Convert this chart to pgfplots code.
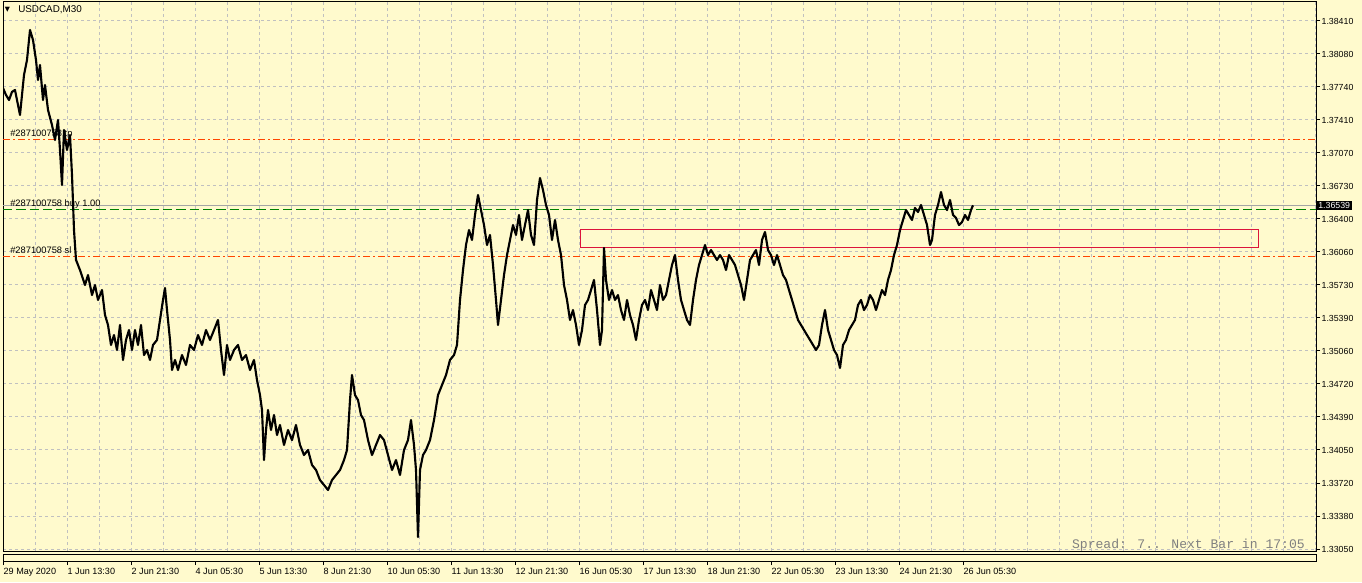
\documentclass[border=0pt]{standalone}
\usepackage{pgfplots}
\pgfplotsset{compat=1.18}
\usepackage{pgfplotstable}
\usepackage{fontspec}
\setmainfont{Liberation Sans}
\newfontfamily\monofont{Liberation Mono}
\newfontfamily\djfont{DejaVu Sans}
\definecolor{bgc}{RGB}{255,250,205}
\definecolor{gridc}{RGB}{192,192,192}
\definecolor{ordc}{RGB}{255,69,0}
\definecolor{buyc}{RGB}{0,128,0}
\definecolor{rectc}{RGB}{220,20,60}
\definecolor{bidc}{RGB}{165,165,165}
\definecolor{sprc}{RGB}{128,128,128}

\pgfplotstableread{
idx price
0 1.37730
3 1.37659
6 1.37608
9 1.37690
12 1.37710
15 1.37557
17 1.37456
19 1.37659
21 1.37862
24 1.38014
27 1.38319
30 1.38217
33 1.38014
35 1.37811
37 1.37963
40 1.37608
42 1.37760
45 1.37507
49 1.37354
52 1.37202
55 1.37405
57 1.37100
59 1.36745
61 1.37303
64 1.37100
67 1.37253
69 1.36847
71 1.36288
73 1.35984
77 1.35882
82 1.35730
85 1.35831
89 1.35628
92 1.35730
95 1.35578
99 1.35679
102 1.35425
105 1.35324
108 1.35121
111 1.35222
114 1.35070
117 1.35324
120 1.34969
123 1.35172
126 1.35273
129 1.35070
132 1.35273
135 1.35121
138 1.35324
141 1.35019
144 1.35070
147 1.34969
150 1.35121
154 1.35172
157 1.35375
160 1.35578
162 1.35699
164 1.35476
167 1.35172
169 1.34867
172 1.34969
175 1.34867
179 1.35019
183 1.34918
187 1.35121
191 1.35070
195 1.35222
199 1.35121
203 1.35273
207 1.35172
211 1.35273
215 1.35375
218 1.35070
221 1.34816
224 1.35121
227 1.34969
231 1.35070
235 1.35121
239 1.34969
243 1.35019
247 1.34867
251 1.34969
254 1.34765
257 1.34613
259 1.34461
261 1.33953
263 1.34258
265 1.34461
268 1.34258
271 1.34410
274 1.34207
277 1.34309
281 1.34106
285 1.34258
289 1.34156
293 1.34309
297 1.34106
301 1.34004
305 1.34055
309 1.33903
313 1.33852
317 1.33750
321 1.33700
325 1.33649
329 1.33750
333 1.33801
337 1.33852
341 1.33953
344 1.34055
347 1.34562
349 1.34816
352 1.34613
355 1.34562
358 1.34410
361 1.34359
365 1.34156
369 1.34004
373 1.34106
377 1.34207
381 1.34156
385 1.34004
389 1.33852
393 1.33953
397 1.33801
401 1.34055
405 1.34156
408 1.34359
411 1.34106
413 1.33852
415 1.33172
417 1.33852
420 1.34004
423 1.34055
427 1.34156
431 1.34359
435 1.34613
439 1.34715
443 1.34816
447 1.34969
451 1.35019
454 1.35121
457 1.35578
460 1.35882
463 1.36136
466 1.36288
469 1.36187
472 1.36441
475 1.36644
478 1.36491
481 1.36339
484 1.36136
487 1.36238
490 1.35933
493 1.35578
495 1.35324
498 1.35578
501 1.35831
504 1.36034
507 1.36187
510 1.36339
513 1.36238
516 1.36441
519 1.36187
522 1.36339
525 1.36491
528 1.36238
531 1.36136
534 1.36593
537 1.36816
540 1.36694
543 1.36542
546 1.36441
549 1.36187
552 1.36390
555 1.36187
558 1.36034
561 1.35730
564 1.35578
567 1.35375
570 1.35476
573 1.35324
576 1.35121
579 1.35273
582 1.35527
585 1.35578
588 1.35679
591 1.35781
594 1.35476
597 1.35121
599 1.35273
601 1.36106
603 1.35781
606 1.35578
609 1.35679
612 1.35578
615 1.35628
618 1.35476
621 1.35375
624 1.35578
627 1.35425
630 1.35324
633 1.35172
636 1.35375
639 1.35527
642 1.35578
645 1.35476
648 1.35679
651 1.35578
654 1.35476
657 1.35730
660 1.35578
663 1.35628
666 1.35781
669 1.35933
672 1.36034
675 1.35781
678 1.35578
681 1.35476
684 1.35375
687 1.35324
690 1.35578
693 1.35781
696 1.35933
699 1.36034
702 1.36136
705 1.36034
708 1.36085
711 1.36034
714 1.35984
717 1.36034
720 1.35984
723 1.35882
726 1.36034
729 1.35984
732 1.35933
735 1.35831
738 1.35730
741 1.35578
744 1.35781
747 1.35984
750 1.36034
753 1.36085
756 1.35933
759 1.36187
762 1.36268
765 1.36085
768 1.36034
771 1.35933
774 1.36034
777 1.35933
780 1.35831
783 1.35781
786 1.35679
789 1.35578
792 1.35476
795 1.35375
798 1.35324
801 1.35273
804 1.35222
807 1.35172
810 1.35121
813 1.35070
816 1.35121
819 1.35324
822 1.35476
825 1.35273
828 1.35172
831 1.35070
834 1.35019
837 1.34887
840 1.35121
843 1.35172
846 1.35273
849 1.35324
852 1.35375
855 1.35527
858 1.35578
861 1.35476
864 1.35527
867 1.35628
870 1.35578
873 1.35476
876 1.35578
879 1.35679
882 1.35628
885 1.35781
888 1.35882
891 1.36034
894 1.36136
897 1.36288
900 1.36390
903 1.36491
906 1.36441
909 1.36390
912 1.36512
915 1.36471
918 1.36542
921 1.36441
924 1.36339
927 1.36136
929 1.36187
932 1.36441
935 1.36542
938 1.36674
941 1.36542
944 1.36491
947 1.36593
950 1.36441
953 1.36410
956 1.36339
959 1.36369
962 1.36441
965 1.36390
968 1.36491
970 1.36539
}\pricedata

\begin{document}
\begin{tikzpicture}
\fill[bgc] (0,0) rectangle (1021.5pt,436.5pt);
\begin{axis}[
  scale only axis,
  width=984.75pt, height=411.75pt,
  at={(2.25pt,435pt)}, anchor=north west,
  xmin=0, xmax=1313,
  ymin=1.330297, ymax=1.386029,
  clip mode=individual,
  axis line style={line width=0.75pt},
  xtick={32,64,...,1312},
  xticklabels={},
  x tick style={draw=none},
  ytick={1.33050,1.33385,1.33720,1.34055,1.34390,1.34725,1.35060,1.35395,1.35730,1.36065,1.36400,1.36735,1.37070,1.37405,1.37740,1.38075,1.38410},
  yticklabels={1.33050,1.33380,1.33720,1.34050,1.34390,1.34720,1.35060,1.35390,1.35730,1.36060,1.36400,1.36730,1.37070,1.37410,1.37740,1.38080,1.38410},
  ytick pos=right, yticklabel pos=right,
  tick align=outside,
  y tick style={black, line width=0.75pt},
  major tick length=3pt,
  yticklabel style={anchor=west, inner sep=0pt, font=\fontsize{6.6pt}{7pt}\selectfont, xshift=1pt},
  grid=major,
  grid style={gridc, line width=0.75pt, dash pattern=on 2.25pt off 2.25pt},
]
% order lines
\addplot[ordc, line width=0.75pt, dash pattern=on 5.25pt off 2.25pt on 1.5pt off 2.25pt] coordinates {(0,1.37209) (1313,1.37209)};
\addplot[ordc, line width=0.75pt, dash pattern=on 5.25pt off 2.25pt on 1.5pt off 2.25pt] coordinates {(0,1.36024) (1313,1.36024)};
\addplot[buyc, line width=0.75pt, dash pattern=on 7pt off 3pt] coordinates {(0,1.36499) (1313,1.36499)};
\addplot[bidc, line width=0.75pt] coordinates {(0,1.36539) (1313,1.36539)};
\node[anchor=base west, inner sep=0pt, font=\fontsize{7pt}{8pt}\selectfont] at (axis cs:7,1.37233) {\#287100758 tp};
\node[anchor=base west, inner sep=0pt, font=\fontsize{7pt}{8pt}\selectfont] at (axis cs:7,1.36522) {\#287100758 buy 1.00};
\node[anchor=base west, inner sep=0pt, font=\fontsize{7pt}{8pt}\selectfont] at (axis cs:7,1.36045) {\#287100758 sl};
% rectangle
\addplot[rectc, line width=0.75pt] coordinates {(577,1.36295) (1255,1.36295) (1255,1.36113) (577,1.36113) (577,1.36295)};
% price
\addplot[black, line width=1.6pt, line join=round] table[x=idx,y=price]{\pricedata};
% current price tag
\node[anchor=west, fill=black, text=white, inner xsep=1.5pt, inner ysep=1pt, font=\fontsize{6.6pt}{7pt}\selectfont] at (axis cs:1313,1.36539) {1.36539};
% spread
\node[anchor=base east, inner sep=0pt, text=sprc, font=\monofont\fontsize{9.8pt}{11pt}\selectfont] at (axis cs:1302,1.33060) {Spread: 7.. Next Bar in 17:05};
\end{axis}
% sub window with time labels
\begin{axis}[
  scale only axis,
  width=984.75pt, height=5.25pt,
  at={(2.25pt,21pt)}, anchor=north west,
  xmin=0, xmax=1313, ymin=0, ymax=1,
  axis line style={line width=0.75pt},
  ytick=\empty,
  xtick={0,64,...,960},
  xticklabels={29 May 2020,1 Jun 13:30,2 Jun 21:30,4 Jun 05:30,5 Jun 13:30,8 Jun 21:30,10 Jun 05:30,11 Jun 13:30,12 Jun 21:30,16 Jun 05:30,17 Jun 13:30,18 Jun 21:30,22 Jun 05:30,23 Jun 13:30,24 Jun 21:30,26 Jun 05:30},
  xtick pos=bottom, tick align=outside,
  major tick length=3pt,
  x tick style={black, line width=0.75pt},
  xticklabel style={anchor=north west, inner sep=0pt, font=\fontsize{6.8pt}{7pt}\selectfont, xshift=0.3pt, yshift=-2pt},
]
\end{axis}
\node[anchor=west, inner sep=0pt, font=\djfont\fontsize{5pt}{6pt}\selectfont] at (3.5pt,429pt) {▼};
\node[anchor=west, inner sep=0pt, font=\fontsize{7.4pt}{8pt}\selectfont] at (13.5pt,429pt) {USDCAD,M30};
\pgfresetboundingbox
\useasboundingbox (0,0) rectangle (1021.5pt,436.5pt);
\end{tikzpicture}
\end{document}
